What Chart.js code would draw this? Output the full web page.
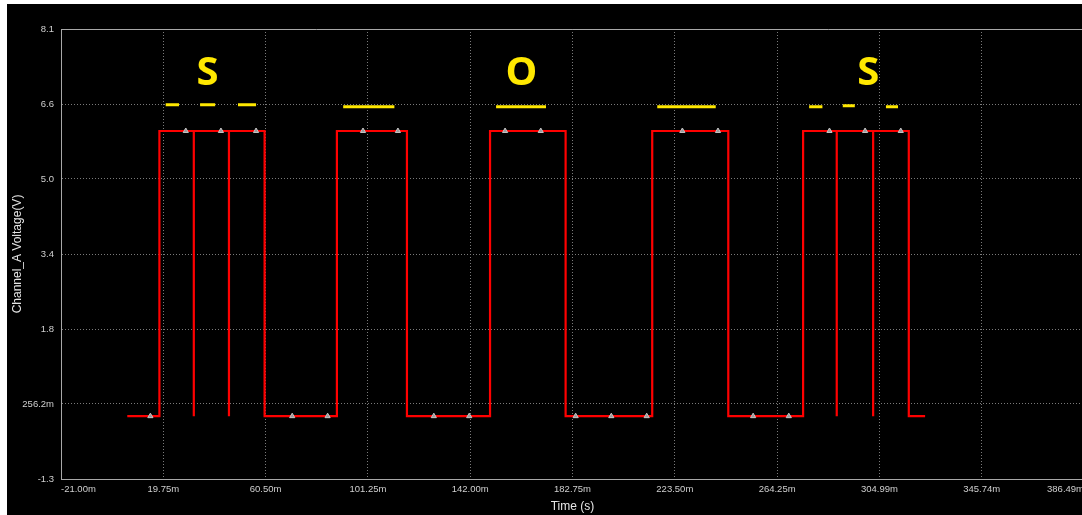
<!DOCTYPE html>
<html>
<head>
<meta charset="utf-8">
<title>Channel_A Voltage</title>
<script src="https://cdn.jsdelivr.net/npm/chart.js"></script>
<style>
    html, body { margin: 0; padding: 0; background: #ffffff; }
    #scope { position: absolute; left: 7px; top: 4px; width: 1075px; height: 511px; background: #000000; overflow: hidden; }
</style>
</head>
<body>
<div id="scope"><canvas id="scope-chart" width="1082" height="511"></canvas></div>
<script>
// x axis tick labels (time, ms)
var xTickLabels = ['-21.00m', '19.75m', '60.50m', '101.25m', '142.00m', '182.75m', '223.50m', '264.25m', '304.99m', '345.74m', '386.49m'];
// y axis tick values and labels (volts)
var yTickValues = [-1.322, 0.2562, 1.834, 3.412, 4.990, 6.568, 8.146];
var yTickLabels = ['-1.3', '256.2m', '1.8', '3.4', '5.0', '6.6', '8.1'];

// Channel_A trace, step corners (ms, V)
var sigTime = [5.4, 18.2, 18.2, 31.9, 31.9, 31.9, 45.9, 45.9, 45.9, 60.1, 60.1, 88.9, 88.9, 116.8, 116.8, 149.9, 149.9, 180.0, 180.0,
    214.5, 214.5, 244.8, 244.8, 274.6, 274.6, 288.0, 288.0, 288.0, 302.5, 302.5, 302.5, 316.7, 316.7, 323.2];
var sigVolt = [0, 0, 6, 6, 0, 6, 6, 0, 6, 6, 0, 0, 6, 6, 0, 0, 6, 6, 0, 0, 6, 6, 0, 0, 6, 6, 0, 6, 6, 0, 6, 6, 0, 0];

// sample markers on the trace
var markTime = [14.6, 28.7, 42.7, 56.7, 71.1, 85.2, 99.3, 113.2, 127.5, 141.6, 155.9, 170.1, 184.0, 198.2, 212.3, 226.5, 240.7, 254.7, 268.9, 285.1, 299.3, 313.5];
var markVolt = [0, 6, 6, 6, 0, 0, 6, 6, 0, 0, 6, 6, 0, 0, 0, 6, 6, 0, 0, 6, 6, 6];

// morse marks (dots / dashes) above the trace
var morseStart = [20.7, 34.4, 49.5, 91.4, 152.3, 216.5, 277.0, 290.4, 307.6];
var morseEnd = [26.0, 40.4, 56.7, 111.8, 172.2, 239.8, 282.3, 295.2, 312.4];
var morseVolt = [6.55, 6.55, 6.55, 6.51, 6.51, 6.51, 6.51, 6.53, 6.51];

// letters
var letterText = ['S', 'O', 'S'];
var letterTime = [37.4, 162.4, 300.6];
var letterVolt = [7.21, 7.21, 7.21];

var xTickValues = xTickLabels.map(function(l) { return parseFloat(l); });

var colors = {
    trace: '#ff0000',
    marker: '#9c9c9c',
    morse: '#ffe800',
    grid: '#7a7a7a',
    axis: '#a8a8a8',
    tick: '#cfcfcf',
    title: '#e6e6e6'
};

function pairs(xs, ys) {
    return xs.map(function(x, i) { return { x: x, y: ys[i] }; });
}

function morseData() {
    var out = [];
    for (var i = 0; i < morseStart.length; i++) {
        out.push({ x: morseStart[i], y: morseVolt[i] });
        out.push({ x: morseEnd[i], y: morseVolt[i] });
        out.push({ x: morseEnd[i], y: null });
    }
    return out;
}

var framePlugin = {
    id: 'frameTop',
    afterDraw: function(chart) {
        var a = chart.chartArea, ctx = chart.ctx;
        ctx.save();
        ctx.strokeStyle = colors.axis;
        ctx.lineWidth = 1;
        ctx.beginPath();
        ctx.moveTo(a.left, Math.round(a.top) + 0.5);
        ctx.lineTo(a.right, Math.round(a.top) + 0.5);
        ctx.stroke();
        ctx.restore();
    }
};

var letterPlugin = {
    id: 'letters',
    afterDatasetsDraw: function(chart) {
        var ctx = chart.ctx, sx = chart.scales.x, sy = chart.scales.y;
        ctx.save();
        ctx.fillStyle = colors.morse;
        ctx.font = 'bold 40px "Open Sans", "Noto Sans", sans-serif';
        ctx.textAlign = 'center';
        ctx.textBaseline = 'middle';
        for (var i = 0; i < letterText.length; i++) {
            ctx.fillText(letterText[i], sx.getPixelForValue(letterTime[i]), sy.getPixelForValue(letterVolt[i]));
        }
        ctx.restore();
    }
};

var tickFont = { family: '"Liberation Sans", Arial, sans-serif', size: 9.5 };
var titleFont = { family: '"Liberation Sans", Arial, sans-serif', size: 12 };

new Chart(document.getElementById('scope-chart').getContext('2d'), {
    type: 'line',
    data: {
        datasets: [{
            label: 'markers',
            data: pairs(markTime, markVolt),
            showLine: false,
            pointStyle: 'triangle',
            pointRadius: 3,
            pointBackgroundColor: colors.marker,
            pointBorderColor: '#c4c4c4',
            pointBorderWidth: 1,
            order: 0
        }, {
            label: 'Channel_A',
            data: pairs(sigTime, sigVolt),
            borderColor: colors.trace,
            borderWidth: 2.2,
            pointRadius: 0,
            tension: 0,
            order: 1
        }, {
            label: 'morse',
            data: morseData(),
            borderColor: colors.morse,
            borderWidth: 3,
            pointRadius: 0,
            spanGaps: false,
            order: 2
        }]
    },
    options: {
        responsive: false,
        animation: false,
        events: [],
        layout: { padding: { top: 25, right: 0, left: 0, bottom: 0 } },
        plugins: {
            legend: { display: false },
            tooltip: { enabled: false }
        },
        scales: {
            x: {
                type: 'linear',
                min: xTickValues[0],
                max: xTickValues[xTickValues.length - 1],
                afterBuildTicks: function(scale) {
                    scale.ticks = xTickValues.map(function(v) { return { value: v }; });
                },
                afterFit: function(scale) { scale.height = 36; },
                grid: { color: colors.grid, lineWidth: 1, drawTicks: false },
                border: { color: colors.axis, width: 1, dash: [1, 2] },
                ticks: {
                    color: colors.tick,
                    font: tickFont,
                    padding: 5,
                    align: 'inner',
                    maxRotation: 0,
                    autoSkip: false,
                    callback: function(v, i) { return xTickLabels[i]; }
                },
                title: { display: true, text: 'Time (s)', color: colors.title, font: titleFont, padding: { top: 2, bottom: 1 } }
            },
            y: {
                type: 'linear',
                min: yTickValues[0],
                max: yTickValues[yTickValues.length - 1],
                afterBuildTicks: function(scale) {
                    scale.ticks = yTickValues.map(function(v) { return { value: v }; });
                },
                afterFit: function(scale) { scale.width = 54; },
                grid: { color: colors.grid, lineWidth: 1, drawTicks: false },
                border: { color: colors.axis, width: 1, dash: [1, 2] },
                ticks: {
                    color: colors.tick,
                    font: tickFont,
                    padding: 7,
                    autoSkip: false,
                    callback: function(v, i) { return yTickLabels[i]; }
                },
                title: { display: true, text: 'Channel_A Voltage(V)', color: colors.title, font: titleFont, padding: { top: 3, bottom: 2 } }
            }
        }
    },
    plugins: [framePlugin, letterPlugin]
});
</script>
</body>
</html>
